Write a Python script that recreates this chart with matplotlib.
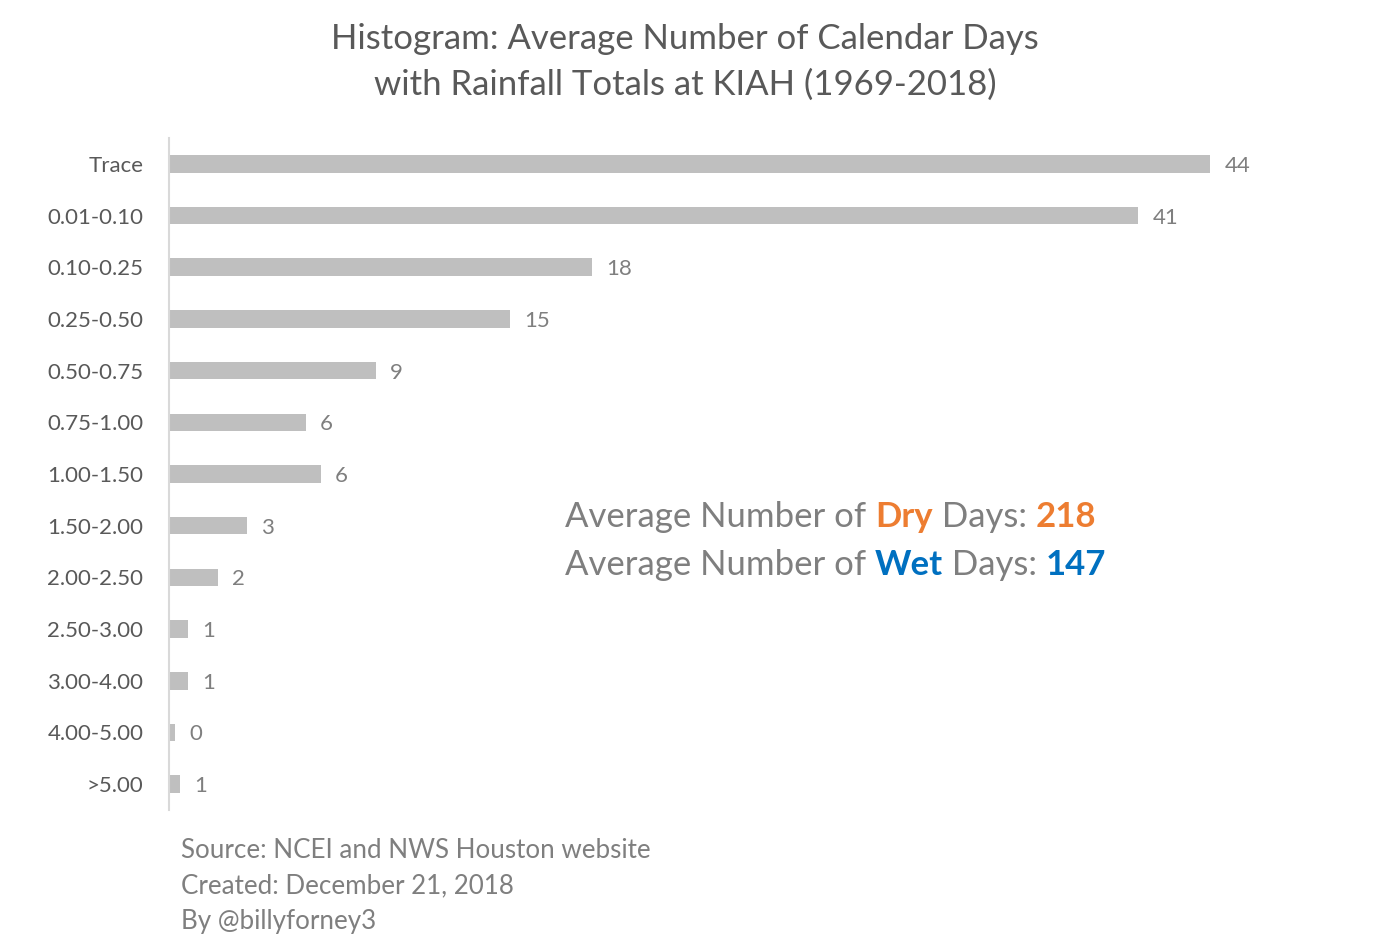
import matplotlib
matplotlib.use('Agg')
import matplotlib.pyplot as plt

# ===== data =====
categories = ['Trace', '0.01-0.10', '0.10-0.25', '0.25-0.50', '0.50-0.75',
              '0.75-1.00', '1.00-1.50', '1.50-2.00', '2.00-2.50', '2.50-3.00',
              '3.00-4.00', '4.00-5.00', '>5.00']
avg_days = [44.0, 40.96, 17.9, 14.44, 8.78, 5.8, 6.43, 3.33, 2.1, 0.84, 0.84, 0.28, 0.5]
day_labels = ['44', '41', '18', '15', '9', '6', '6', '3', '2', '1', '1', '0', '1']
dry_days = 218
wet_days = 147

title = 'Histogram: Average Number of Calendar Days\nwith Rainfall Totals at KIAH (1969-2018)'
footer = ['Source: NCEI and NWS Houston website', 'Created: December 21, 2018', 'By @billyforney3']

FONT = 'Lato'
GRAY = '#7f7f7f'
DARK = '#595959'
ORANGE = '#ED7D31'
BLUE = '#0070C0'

W, H = 1377, 948
fig = plt.figure(figsize=(W / 100, H / 100), dpi=100)
plt.rcParams['font.family'] = [FONT, 'DejaVu Sans']

# axes in pixel coords: left 168.5, top 138, bottom 810
left, right, top, bottom = 168.5, 1290, 138, 810
ax = fig.add_axes([left / W, 1 - bottom / H, (right - left) / W, (bottom - top) / H])

y = list(range(len(categories)))
ax.barh(y, avg_days, height=0.34, color='#BFBFBF')
ax.set_ylim(len(categories) - 0.5, -0.5)
ax.set_xlim(0, (right - left) / 23.68)
ax.set_yticks(y)
ax.set_yticklabels(categories, fontsize=16, color=DARK)
ax.tick_params(axis='y', length=0, pad=18)
ax.set_xticks([])
for s in ['top', 'right', 'bottom']:
    ax.spines[s].set_visible(False)
ax.spines['left'].set_color('#D9D9D9')
ax.spines['left'].set_linewidth(1.5)

for yi, v, lab in zip(y, avg_days, day_labels):
    ax.annotate(lab, (v, yi), xytext=(10, 0), textcoords='offset points',
                va='center_baseline', ha='left', fontsize=16, color=GRAY)

fig.text(685 / W, 1 - 62 / H, title, ha='center', va='center', fontsize=25,
         color=DARK, linespacing=1.55)

for i, line in enumerate(footer):
    fig.text(181 / W, 1 - (850 + 35.5 * i) / H, line, ha='left', va='center',
             fontsize=18.7, color=GRAY)

# multi-coloured summary lines
renderer = fig.canvas.get_renderer()


def rich_line(x_px, base_px, pieces, size=25):
    x = x_px
    for txt, col, wt in pieces:
        t = fig.text(x / W, 1 - base_px / H, txt, ha='left', va='baseline',
                     fontsize=size, color=col, fontweight=wt)
        bb = t.get_window_extent(renderer)
        x += bb.width


rich_line(565, 527, [('Average Number of ', GRAY, 'normal'), ('Dry', ORANGE, 'bold'),
                     (' Days: ', GRAY, 'normal'), (str(dry_days), ORANGE, 'bold')])
rich_line(565, 575, [('Average Number of ', GRAY, 'normal'), ('Wet', BLUE, 'bold'),
                     (' Days: ', GRAY, 'normal'), (str(wet_days), BLUE, 'bold')])

fig.savefig('out.png', dpi=100)
